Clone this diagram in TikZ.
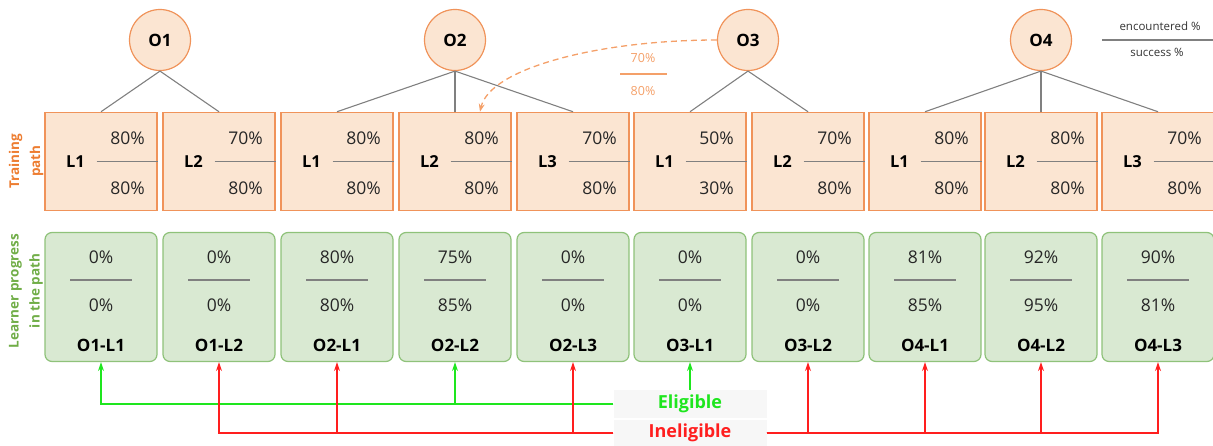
\documentclass[tikz,border=0pt]{standalone}
\usepackage{fontspec}
\setmainfont{Open Sans}
\usepackage{xcolor}
\usepackage{tikz}
\usetikzlibrary{arrows.meta, positioning}
\definecolor{peach}{HTML}{FBE5D2}
\definecolor{peachline}{HTML}{F0935A}
\definecolor{mint}{HTML}{D9E9D2}
\definecolor{mintline}{HTML}{8FC27A}
\definecolor{trainorange}{HTML}{ED7D31}
\definecolor{learngreen}{HTML}{70AD47}
\definecolor{okgreen}{HTML}{1EE61E}
\definecolor{nokred}{HTML}{FF1E1E}
\definecolor{sepgray}{HTML}{808080}
\definecolor{hintorange}{HTML}{F4A069}
\tikzset{
    obj/.style={
        circle, draw=peachline, fill=peach, line width=1.2pt,
        minimum size=61pt, inner sep=0pt,
        font=\fontsize{17}{20}\selectfont\bfseries,
    },
    train/.style={
        rectangle, draw=peachline, fill=peach, line width=1.5pt,
        minimum width=112pt, minimum height=98pt,
    },
    learn/.style={
        rectangle, draw=mintline, fill=mint, line width=1.2pt,
        rounded corners=7pt, minimum width=112pt, minimum height=129pt,
    },
    lvl/.style={inner sep=0pt, font=\fontsize{16.5}{20}\selectfont\bfseries},
    pct/.style={inner sep=0pt, text=black!85, font=\fontsize{17.5}{20}\selectfont},
    code/.style={inner sep=0pt, font=\fontsize{17}{20}\selectfont\bfseries},
    sep/.style={draw=sepgray, line width=1.5pt},
    tree/.style={draw=sepgray, line width=1.1pt},
    side/.style={rotate=90, align=center, font=\fontsize{13.5}{21}\selectfont\bfseries},
    note/.style={inner sep=0pt, text=black!80, font=\fontsize{11.5}{14}\selectfont},
    hintpct/.style={inner sep=0pt, text=hintorange, font=\fontsize{12.5}{14}\selectfont},
    hint/.style={-{Stealth[length=8pt,width=6pt]}, draw=hintorange, line width=1.3pt,
        dash pattern=on 6pt off 4pt},
    tag/.style={fill=black!3, minimum width=153pt, inner sep=0pt,
        font=\fontsize{18}{20}\selectfont\bfseries},
    ok/.style={-{Stealth[length=9pt,width=6pt]}, draw=okgreen, line width=1.2pt},
    nok/.style={-{Stealth[length=9pt,width=6pt]}, draw=nokred, line width=1.2pt},
}
% one box of the training path: name, x, level, encountered, success
\newcommand{\trainbox}[5]{%
    \node[train] (#1) at (#2,161.5) {};
    \node[lvl] (#1l) at ([xshift=-25.5pt]#1.center) {#3};
    \draw[sep] ([xshift=-4.5pt]#1.center) -- (#1.east);
    \node[pct] (#1a) at ([xshift=26.5pt,yshift=23.5pt]#1.center) {#4\%};
    \node[pct] (#1b) at ([xshift=26.5pt,yshift=-26.5pt]#1.center) {#5\%};
}
% one box of the learner progress: name, x, code, encountered, success
\newcommand{\learnbox}[5]{%
    \node[learn] (#1) at (#2,297) {};
    \node[pct] (#1a) at ([yshift=40pt]#1.center) {#4\%};
    \draw[sep] ([xshift=-31pt,yshift=17pt]#1.center) -- ([xshift=31pt,yshift=17pt]#1.center);
    \node[pct] (#1b) at ([yshift=-8pt]#1.center) {#5\%};
    \node[code] (#1c) at ([yshift=-48pt]#1.center) {#3};
}

\begin{document}
\begin{tikzpicture}[x=1pt, y=-1pt]
    \useasboundingbox (0,0) rectangle (1213,446);

    % objectives
    \node[obj] (o1) at (160,40) {O1};
    \node[obj] (o2) at (455,40) {O2};
    \node[obj] (o3) at (748,40) {O3};
    \node[obj] (o4) at (1041,40) {O4};

    % training path
    \trainbox{t1}{101}{L1}{80}{80}
    \trainbox{t2}{219}{L2}{70}{80}
    \trainbox{t3}{337}{L1}{80}{80}
    \trainbox{t4}{455}{L2}{80}{80}
    \trainbox{t5}{573}{L3}{70}{80}
    \trainbox{t6}{690}{L1}{50}{30}
    \trainbox{t7}{808}{L2}{70}{80}
    \trainbox{t8}{925}{L1}{80}{80}
    \trainbox{t9}{1041}{L2}{80}{80}
    \trainbox{t10}{1158}{L3}{70}{80}

    \draw[tree] (o1.south) -- (t1.north);
    \draw[tree] (o1.south) -- (t2.north);
    \draw[tree] (o2.south) -- (t3.north);
    \draw[tree] (o2.south) -- (t4.north);
    \draw[tree] (o2.south) -- (t5.north);
    \draw[tree] (o3.south) -- (t6.north);
    \draw[tree] (o3.south) -- (t7.north);
    \draw[tree] (o4.south) -- (t8.north);
    \draw[tree] (o4.south) -- (t9.north);
    \draw[tree] (o4.south) -- (t10.north);

    % learner progress
    \learnbox{g1}{101}{O1-L1}{0}{0}
    \learnbox{g2}{219}{O1-L2}{0}{0}
    \learnbox{g3}{337}{O2-L1}{80}{80}
    \learnbox{g4}{455}{O2-L2}{75}{85}
    \learnbox{g5}{573}{O2-L3}{0}{0}
    \learnbox{g6}{690}{O3-L1}{0}{0}
    \learnbox{g7}{808}{O3-L2}{0}{0}
    \learnbox{g8}{925}{O4-L1}{81}{85}
    \learnbox{g9}{1041}{O4-L2}{92}{95}
    \learnbox{g10}{1158}{O4-L3}{90}{81}

    \node[side, text=trainorange] (trainlab) at (26,161) {Training\\path};
    \node[side, text=learngreen] (learnlab) at (26,291) {Learner progress\\in the path};

    % prerequisite of O3
    \node[hintpct] (h1) at (643,58) {70\%};
    \node[hintpct] (h2) at (643,91) {80\%};
    \draw[draw=hintorange, line width=1.2pt] ([xshift=-23pt,yshift=-16pt]h1.center) -- ++(47pt,0pt);
    \draw[hint] (o3.west) .. controls (600,40) and (490,68) .. ([xshift=25pt]t4.north);

    % legend
    \node[note] (enc) at (1160,26) {encountered \%};
    \node[note] (suc) at (1157,52) {success \%};
    \draw[sep] ([xshift=-58pt,yshift=-14pt]enc.center) -- ++(120pt,0pt);

    % eligibility
    \node[tag, text=okgreen, minimum height=28pt] (elig) at (690,404) {Eligible};
    \node[tag, text=nokred, minimum height=26pt] (inel) at (690,433) {Ineligible};

    \draw[ok] (elig.west) -| (g1.south);
    \draw[ok] (elig.west) -| (g4.south);
    \draw[ok] (elig.north) -- (g6.south);
    \draw[nok] (inel.west) -| (g2.south);
    \draw[nok] (inel.west) -| (g3.south);
    \draw[nok] (inel.west) -| (g5.south);
    \draw[nok] (inel.east) -| (g7.south);
    \draw[nok] (inel.east) -| (g8.south);
    \draw[nok] (inel.east) -| (g9.south);
    \draw[nok] (inel.east) -| (g10.south);
\end{tikzpicture}
\end{document}
